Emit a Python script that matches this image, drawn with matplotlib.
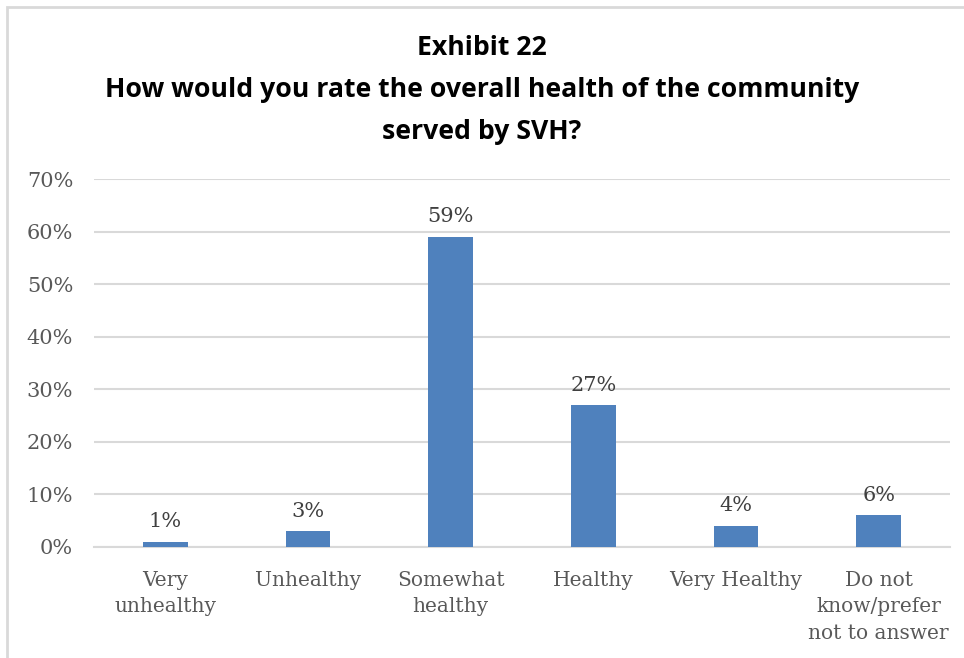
import matplotlib.pyplot as plt
from matplotlib.patches import Rectangle

categories = ["Very\nunhealthy", "Unhealthy", "Somewhat\nhealthy", "Healthy",
              "Very Healthy", "Do not\nknow/prefer\nnot to answer"]
values = [1, 3, 59, 27, 4, 6]
yticks = [0, 10, 20, 30, 40, 50, 60, 70]

W, H = 964, 658
fig = plt.figure(figsize=(W / 100, H / 100), dpi=100)

# outer chart border (only top and left fall inside the canvas)
fig.patches.append(Rectangle((7 / W, -0.1), 1.2, 1 - 7 / H + 0.1, transform=fig.transFigure,
                             fill=False, edgecolor="#D9D9D9", linewidth=2))

ax = fig.add_axes([94 / W, 1 - 547 / H, (950 - 94) / W, (547 - 179) / H])

x = range(len(categories))
bars = ax.bar(x, values, width=0.315, color="#4F81BD", zorder=3)
ax.set_xlim(-0.5, len(categories) - 0.5)
ax.set_ylim(0, 70)

for xi, v in zip(x, values):
    ax.text(xi, v + 2.0, f"{v}%", ha="center", va="bottom", fontsize=15,
            family="DejaVu Serif", color="#404040")

ax.set_yticks(yticks)
ax.set_yticklabels([f"{t}%" for t in yticks], family="DejaVu Serif", fontsize=15, color="#595959")
ax.set_xticks(list(x))
ax.set_xticklabels(categories, family="DejaVu Serif", fontsize=14.5, color="#595959", linespacing=1.5)
ax.tick_params(axis="both", length=0)
ax.tick_params(axis="y", pad=15)
ax.tick_params(axis="x", pad=17)

ax.grid(axis="y", color="#D9D9D9", linewidth=1.5, zorder=0)
for side in ["top", "right", "left"]:
    ax.spines[side].set_visible(False)
ax.spines["bottom"].set_color("#D9D9D9")
ax.spines["bottom"].set_linewidth(1.5)

fig.text(0.5, 1 - 90 / H, "Exhibit 22\nHow would you rate the overall health of the community\nserved by SVH?",
         ha="center", va="center", fontsize=19.2, fontweight="bold", family="Open Sans",
         linespacing=1.78)

fig.savefig("out.png", dpi=100)
